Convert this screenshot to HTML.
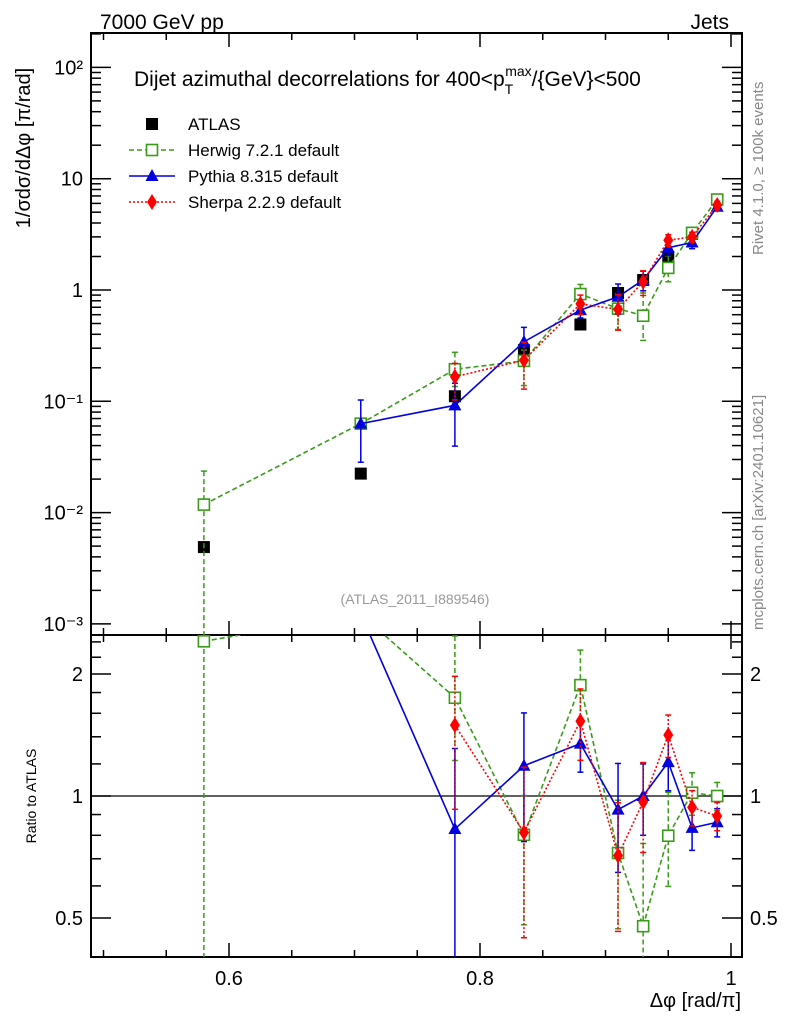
<!DOCTYPE html>
<html><head><meta charset="utf-8"><style>
html,body{margin:0;padding:0;background:#fff;width:786px;height:1024px;overflow:hidden;}
svg{display:block;font-family:"Liberation Sans",sans-serif;overflow:hidden;}
</style></head><body>
<svg id="chartSvg" width="786" height="1024" viewBox="0 0 786 1024" xmlns="http://www.w3.org/2000/svg">
<defs>
<clipPath id="cMain"><rect x="91" y="33" width="651" height="602"/></clipPath>
<clipPath id="cRat"><rect x="91" y="635" width="651" height="322"/></clipPath>
</defs>
<g id="gFrame"></g>
<text x="100" y="29" font-size="21">7000 GeV pp</text>
<text x="729" y="29" font-size="21" text-anchor="end">Jets</text>
<text x="134" y="86" font-size="21">Dijet azimuthal decorrelations for 400&lt;p<tspan font-size="14" dy="8">T</tspan><tspan font-size="14" dx="-8" dy="-18">max</tspan><tspan dy="10">/{GeV}&lt;500</tspan></text>
<text transform="translate(30,148) rotate(-90)" font-size="20" text-anchor="middle">1/σdσ/dΔφ [π/rad]</text>
<text transform="translate(36,796) rotate(-90)" font-size="14" text-anchor="middle">Ratio to ATLAS</text>
<text x="741" y="1007" font-size="20" text-anchor="end">Δφ [rad/π]</text>
<text transform="translate(763,255) rotate(-90)" font-size="15" fill="#888">Rivet 4.1.0, ≥ 100k events</text>
<text transform="translate(763,630) rotate(-90)" font-size="15" fill="#888">mcplots.cern.ch [arXiv:2401.10621]</text>
<text x="415" y="604" font-size="14" fill="#999" text-anchor="middle">(ATLAS_2011_I889546)</text>
<g id="gLegend"></g>
<g id="gMarks"></g>
</svg>
<script>
var xs = [0.58, 0.705, 0.78, 0.835, 0.88, 0.91, 0.93, 0.95, 0.969, 0.989];
var atlas = [0.0049, 0.0224, 0.111, 0.288, 0.49, 0.94, 1.23, 1.98, 3.2, 6.5];
var herwig = [0.0118, 0.063, 0.194, 0.231, 0.92, 0.68, 0.587, 1.58, 3.26, 6.5];
var herwigUp = [1.0, 0.05, 0.42, 0.25, 0.22, 0.35, 0.6, 0.28, 0.12, 0.08];
var herwigDn = [1.0, 0.05, 0.3, 0.4, 0.2, 0.35, 0.4, 0.25, 0.12, 0.08];
var pythia = [null, 0.063, 0.092, 0.342, 0.66, 0.87, 1.23, 2.4, 2.67, 5.6];
var pythiaUp = [0, 0.63, 0.58, 0.35, 0.15, 0.3, 0.2, 0.15, 0.12, 0.08];
var pythiaDn = [0, 0.55, 0.57, 0.35, 0.15, 0.3, 0.2, 0.15, 0.12, 0.08];
var sherpa = [null, null, 0.166, 0.234, 0.75, 0.67, 1.19, 2.8, 3.0, 5.8];
var sherpaUp = [0, 0, 0.32, 0.45, 0.2, 0.35, 0.25, 0.12, 0.1, 0.08];
var sherpaDn = [0, 0, 0.38, 0.45, 0.2, 0.35, 0.25, 0.12, 0.1, 0.08];
var xTicks = [0.6, 0.8, 1.0];
var xTickLabels = ["0.6", "0.8", "1"];
var yDecades = [-3, -2, -1, 0, 1, 2];
var yDecadeLabels = ["10\u207B\u00B3","10\u207B\u00B2","10\u207B\u00B9","1","10","10\u00B2"];
var ratioTicks = [0.5, 1, 2];
var ratioTickLabels = ["0.5","1","2"];

(function(){
var PL=91, PR=742, PT=33, PMB=635, PB=957;
function sx(v){ return 229 + (v-0.6)*1255; }
function sy(v){ return 290 - Math.log10(v)*111.3; }
function sry(v){ return 796 - Math.log2(v)*122; }
var SVGNS="http://www.w3.org/2000/svg";
var root=document.getElementById('chartSvg');
var gF=document.getElementById('gFrame');
var gM=document.getElementById('gMarks');
var gL=document.getElementById('gLegend');
function mk(tag,attrs,par){
  var e=document.createElementNS(SVGNS,tag);
  for(var k in attrs){ if(attrs.hasOwnProperty(k)) e.setAttribute(k,String(attrs[k])); }
  (par||root).appendChild(e); return e;
}
function ln(x1,y1,x2,y2,st,par){
  var a={x1:x1,y1:y1,x2:x2,y2:y2,stroke:'#000','stroke-width':1.5};
  if(st){ for(var k in st){ a[k]=st[k]; } }
  return mk('line',a,par);
}
try{
var f1=mk('rect',{x:PL,y:PT,width:PR-PL,height:PMB-PT,fill:'none',stroke:'#000','stroke-width':2},gF);


var f2=mk('rect',{x:PL,y:PMB,width:PR-PL,height:PB-PMB,fill:'none',stroke:'#000','stroke-width':2},gF);


}catch(e){}

try{
for(var i=0;i<=10;i++){
  var v=0.5+i*0.05;
  var major=false;
  for(var j=0;j<xTicks.length;j++){ if(Math.abs(xTicks[j]-v)<1e-6) major=true; }
  var len=major?14:7; var x=sx(v);
  if(x<PL||x>PR) continue;
  ln(x,PB,x,PB-len,null,gF); ln(x,PMB,x,PMB-len,null,gF); ln(x,PMB,x,PMB+len,null,gF); ln(x,PT,x,PT+len,null,gF);
}
xTicks.forEach(function(v,i){
  var t=mk('text',{x:sx(v),y:985,'font-size':20,'text-anchor':'middle'},gF);
  t.textContent=xTickLabels[i];
  
  
});
}catch(e){}

try{
yDecades.forEach(function(d,i){
  for(var m=1;m<10;m++){
    var y=sy(m*Math.pow(10,d)); if(y<PT||y>PMB) continue;
    var len=(m==1)?20:10;
    ln(PL,y,PL+len,y,null,gF); ln(PR,y,PR-len,y,null,gF);
  }
  var y0=sy(Math.pow(10,d));
  var t=mk('text',{x:PL-8,y:y0+7,'font-size':20,'text-anchor':'end'},gF);
  t.textContent=yDecadeLabels[i];
  
  
});
var rmin=[0.4,0.5,0.6,0.7,0.8,0.9,1,1.2,1.4,1.6,1.8,2,2.2,2.4];
rmin.forEach(function(v){
  var y=sry(v); if(y<PMB||y>PB) return;
  var len=(ratioTicks.indexOf(v)>=0)?20:10;
  ln(PL,y,PL+len,y,null,gF); ln(PR,y,PR-len,y,null,gF);
});
ratioTicks.forEach(function(v,i){
  var t=mk('text',{x:PL-8,y:sry(v)+7,'font-size':20,'text-anchor':'end'},gF);
  t.textContent=ratioTickLabels[i];
  
  
  var t2=mk('text',{x:PR+8,y:sry(v)+7,'font-size':20},gF);
  t2.textContent=ratioTickLabels[i];
  
  
});
var unity=ln(PL,sry(1),PR,sry(1),{'stroke-width':1.3},gF);


}catch(e){}

function marker(g,type,x,y,color){
  if(type==='sq'){ mk('rect',{x:x-6,y:y-6,width:12,height:12,fill:'#000'},g); }
  else if(type==='osq'){ mk('rect',{x:x-5.5,y:y-5.5,width:11,height:11,fill:'#fff',stroke:color,'stroke-width':1.6},g); }
  else if(type==='tri'){ mk('polygon',{points:x+','+(y-7)+' '+(x-6.5)+','+(y+5)+' '+(x+6.5)+','+(y+5),fill:color},g); }
  else if(type==='dia'){ mk('polygon',{points:x+','+(y-8)+' '+(x-5)+','+y+' '+x+','+(y+8)+' '+(x+5)+','+y,fill:color},g); }
}
function series(nm,vals,up,dn,color,dash,type,ratio){
  var g=mk('g',{'clip-path':ratio?'url(#cRat)':'url(#cMain)'},gM);
  
  
  var F=ratio?function(v,i){return sry(v/atlas[i]);}:function(v,i){return sy(v);};
  var bottom=ratio?PB+2:PMB+2, top=ratio?PMB-2:PT-2;
  var pts=[];
  vals.forEach(function(v,i){ if(v==null) return; pts.push(sx(xs[i])+','+F(v,i)); });
  if(color){ mk('polyline',{points:pts.join(' '),fill:'none',stroke:color,'stroke-width':1.6,'stroke-dasharray':dash||'none'},g); }
  vals.forEach(function(v,i){
    if(v==null) return;
    var x=sx(xs[i]);
    var yc=F(v,i);
    if(yc<PT-2 || (ratio && yc<PMB)) return;
    if(up){
      var hi=v*(1+up[i]); var lo=v*(1-dn[i]);
      var yh=Math.max(F(hi,i),top); var yl=lo>0?Math.min(F(lo,i),bottom):bottom;
      ln(x,yh,x,yl,{stroke:color,'stroke-dasharray':dash||'none'},g);
      ln(x-3,yh,x+3,yh,{stroke:color},g);
      if(lo>0) ln(x-3,yl,x+3,yl,{stroke:color},g);
    }
    marker(g,type,x,yc,color);
  });
}
try{ series('atlas',atlas,null,null,null,null,'sq',false); }catch(e){}
try{ series('herwig',herwig,herwigUp,herwigDn,'#3a9a1a','5,3','osq',false); }catch(e){}
try{ series('pythia',pythia,pythiaUp,pythiaDn,'#0000e0',null,'tri',false); }catch(e){}
try{ series('sherpa',sherpa,sherpaUp,sherpaDn,'#ff0000','2,2','dia',false); }catch(e){}
try{ series('herwig',herwig,herwigUp,herwigDn,'#3a9a1a','5,3','osq',true); }catch(e){}
try{ series('pythia',pythia,pythiaUp,pythiaDn,'#0000e0',null,'tri',true); }catch(e){}
try{ series('sherpa',sherpa,sherpaUp,sherpaDn,'#ff0000','2,2','dia',true); }catch(e){}

try{
var leg=[['ATLAS',null,null,'sq'],['Herwig 7.2.1 default','#3a9a1a','5,3','osq'],['Pythia 8.315 default','#0000e0',null,'tri'],['Sherpa 2.2.9 default','#ff0000','2,2','dia']];
leg.forEach(function(e,i){
  var y=124+i*26; var g=mk('g',{},gL);
  
  
  if(e[1]) mk('line',{x1:129,y1:y,x2:175,y2:y,stroke:e[1],'stroke-width':1.5,'stroke-dasharray':e[2]||'none'},g);
  marker(g,e[3],152,y,e[1]);
  var t=mk('text',{x:188,y:y+6,'font-size':17},g); t.textContent=e[0];
});
}catch(e){}
})();
</script>
</body></html>
